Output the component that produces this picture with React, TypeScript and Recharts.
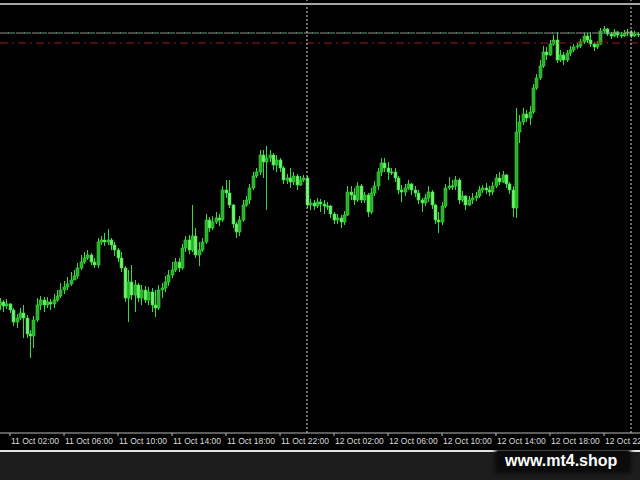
import React from 'react';
import { ComposedChart, Bar, XAxis, YAxis, ReferenceLine } from 'recharts';

// M15 candles, 11 Oct 01:15 -> 13 Oct 00:30. No price scale is shown in the
// picture, so each value is a vertical level read off the chart, measured
// downward from the top of the plot (the y axis is reversed).
const firstBarHour = 1.25; // hours after 11 Oct 00:00
const barHours = 0.25;

const opens = [
  305, 302, 306, 304, 310, 322, 318, 313, 318, 334,
  336, 320, 305, 300, 305, 302, 304, 300, 296, 290,
  287, 284, 280, 276, 268, 262, 258, 255, 262, 265,
  242, 240, 242, 240, 245, 250, 258, 268, 298, 282,
  295, 285, 298, 290, 300, 292, 305, 308, 290, 288,
  282, 275, 270, 262, 268, 248, 240, 250, 236, 255,
  250, 242, 220, 228, 222, 218, 220, 190, 193, 205,
  224, 232, 220, 205, 200, 188, 176, 172, 155, 162,
  158, 155, 165, 160, 168, 180, 178, 182, 176, 185,
  180, 178, 205, 203, 206, 202, 204, 206, 206, 214,
  220, 218, 222, 215, 192, 195, 200, 186, 200, 195,
  212, 193, 186, 172, 163, 168, 172, 172, 178, 190,
  192, 188, 184, 190, 193, 200, 203, 198, 192, 205,
  220, 222, 206, 188, 186, 186, 180, 200, 196, 205,
  200, 198, 196, 190, 188, 190, 192, 186, 178, 182,
  175, 184, 190, 208, 132, 122, 114, 118, 112, 88,
  78, 66, 52, 55, 44, 40, 60, 55, 60, 53,
  50, 47, 46, 42, 36, 40, 44, 47, 44, 31,
  29, 34, 36, 32, 35, 36, 33, 32, 36, 34,
];

const highs = [
  298, 300, 299, 303, 308, 314, 308, 305, 315, 330,
  316, 298, 296, 297, 297, 299, 294, 290, 283, 281,
  277, 272, 270, 263, 255, 252, 250, 253, 258, 238,
  236, 233, 229, 238, 242, 248, 252, 266, 270, 265,
  280, 283, 285, 286, 287, 288, 290, 285, 283, 276,
  270, 262, 258, 258, 244, 236, 235, 205, 228, 242,
  238, 214, 217, 216, 212, 214, 186, 180, 180, 204,
  222, 216, 200, 196, 184, 172, 168, 150, 150, 146,
  150, 153, 155, 158, 166, 174, 168, 172, 174, 176,
  175, 176, 199, 200, 198, 199, 200, 202, 205, 212,
  214, 215, 211, 186, 186, 188, 182, 184, 192, 193,
  188, 181, 168, 158, 158, 162, 168, 168, 176, 185,
  184, 180, 183, 186, 190, 198, 194, 186, 190, 204,
  212, 202, 184, 177, 180, 176, 178, 191, 195, 196,
  193, 192, 186, 185, 183, 186, 182, 174, 172, 171,
  174, 182, 186, 108, 115, 108, 110, 106, 84, 74,
  60, 46, 47, 40, 35, 32, 50, 52, 50, 46,
  44, 43, 39, 33, 33, 32, 42, 41, 28, 26,
  28, 32, 29, 31, 32, 30, 29, 30, 31, 32,
];

const lows = [
  310, 312, 309, 313, 326, 328, 320, 338, 338, 358,
  348, 322, 310, 312, 308, 310, 308, 302, 298, 294,
  290, 286, 280, 279, 270, 264, 260, 265, 268, 268,
  245, 246, 245, 250, 256, 262, 272, 302, 322, 300,
  312, 302, 305, 303, 305, 312, 317, 310, 298, 292,
  286, 278, 272, 272, 270, 252, 254, 252, 258, 266,
  252, 244, 232, 230, 224, 226, 222, 198, 208, 228,
  238, 236, 222, 207, 204, 190, 178, 175, 178, 210,
  162, 170, 172, 172, 184, 184, 188, 185, 190, 186,
  182, 208, 210, 210, 208, 212, 214, 210, 218, 224,
  224, 228, 225, 216, 200, 205, 202, 203, 203, 217,
  214, 196, 190, 176, 172, 180, 175, 182, 194, 202,
  196, 190, 195, 197, 204, 212, 206, 202, 209, 224,
  233, 225, 208, 190, 190, 190, 204, 202, 210, 206,
  204, 201, 198, 193, 194, 196, 195, 188, 185, 183,
  188, 194, 217, 218, 143, 125, 122, 125, 114, 90,
  80, 68, 60, 56, 46, 63, 62, 65, 62, 56,
  52, 49, 48, 44, 43, 47, 51, 49, 45, 33,
  36, 39, 37, 38, 38, 37, 36, 38, 37, 37,
];

const closes = [
  302, 306, 304, 310, 322, 318, 313, 318, 334, 336,
  320, 305, 300, 305, 302, 304, 300, 296, 290, 287,
  284, 280, 276, 268, 262, 258, 255, 262, 265, 242,
  240, 242, 240, 245, 250, 258, 268, 298, 282, 295,
  285, 298, 290, 300, 292, 305, 308, 290, 288, 282,
  275, 270, 262, 268, 248, 240, 250, 236, 255, 250,
  242, 220, 228, 222, 218, 220, 190, 193, 205, 224,
  232, 220, 205, 200, 188, 176, 172, 155, 162, 158,
  155, 165, 160, 168, 180, 178, 182, 176, 185, 180,
  178, 205, 203, 206, 202, 204, 206, 206, 214, 220,
  218, 222, 215, 192, 195, 200, 186, 200, 195, 212,
  193, 186, 172, 163, 168, 172, 172, 178, 190, 192,
  188, 184, 190, 193, 200, 203, 198, 192, 205, 220,
  222, 206, 188, 186, 186, 180, 200, 196, 205, 200,
  198, 196, 190, 188, 190, 192, 186, 178, 182, 175,
  184, 190, 208, 132, 122, 114, 118, 112, 88, 78,
  66, 52, 55, 44, 40, 60, 55, 60, 53, 50,
  47, 46, 42, 36, 40, 44, 47, 44, 31, 29,
  34, 36, 32, 35, 36, 33, 32, 36, 34, 35,
];

const tickHours = [2, 6, 10, 14, 18, 22, 26, 30, 34, 38, 42, 46];
const tickLabels = [
  '11 Oct 02:00', '11 Oct 06:00', '11 Oct 10:00', '11 Oct 14:00',
  '11 Oct 18:00', '11 Oct 22:00', '12 Oct 02:00', '12 Oct 06:00',
  '12 Oct 10:00', '12 Oct 14:00', '12 Oct 18:00', '12 Oct 22:00',
];

const askLevel = 33;
const stopLevel = 43;
const daySeparators = [24, 48];

const data = closes.map((c, i) => ({
  t: firstBarHour + i * barHours,
  open: opens[i],
  high: highs[i],
  low: lows[i],
  close: c,
  range: [highs[i], lows[i]],
}));

const W = 640;
const H = 480;
const PX_PER_HOUR = 13.5;
const xMin = 2 - 10 / PX_PER_HOUR;
const xMax = 2 + 630 / PX_PER_HOUR;

const WICK = '#3ad83a';
const UP_FILL = '#2aae2a';
const DOWN_FILL = '#72f272';

function Candle(props: any) {
  const { x, y, width, height, payload } = props;
  if (x == null || y == null || !payload) return null;
  const top = Math.min(y, y + height);
  const bot = Math.max(y, y + height);
  const span = payload.low - payload.high;
  const px = (v: number) => (span ? top + ((v - payload.high) / span) * (bot - top) : top);
  const o = px(payload.open);
  const c = px(payload.close);
  const cx = Math.round(x + width / 2) + 0.5;
  const bull = payload.close < payload.open;
  const bt = Math.min(o, c);
  const bh = Math.max(Math.abs(o - c), 1);
  return (
    <g>
      <line x1={cx} x2={cx} y1={top} y2={bot} stroke={WICK} strokeWidth={1} />
      <rect
        x={cx - 1.5}
        y={bt}
        width={3}
        height={bh}
        fill={bull ? UP_FILL : DOWN_FILL}
        stroke={WICK}
        strokeWidth={0.6}
      />
    </g>
  );
}

function TimeTick(props: any) {
  const { x, payload } = props;
  const idx = tickHours.indexOf(payload.value);
  if (idx < 0) return null;
  return (
    <text
      x={x + 1}
      y={444}
      fill="#dcdcdc"
      fontSize={8.5}
      fontFamily="'Liberation Sans', Arial, sans-serif"
      textAnchor="start"
    >
      {tickLabels[idx]}
    </text>
  );
}

export default function App() {
  return (
    <div style={{ position: 'absolute', left: 0, top: 0, width: W, height: H, background: '#000', overflow: 'hidden' }}>
      <ComposedChart
        width={W}
        height={H}
        data={data}
        margin={{ top: 0, right: 0, bottom: 0, left: 0 }}
      >
        <XAxis
          type="number"
          dataKey="t"
          domain={[xMin, xMax]}
          allowDataOverflow
          ticks={tickHours}
          interval={0}
          height={47}
          axisLine={{ stroke: '#b8b8b8' }}
          tickLine={{ stroke: '#b8b8b8' }}
          tickSize={3}
          tick={<TimeTick />}
        />
        <YAxis hide reversed domain={[0, 433]} allowDataOverflow />
        <ReferenceLine y={askLevel} stroke="#8e8e8e" strokeDasharray="9 7" ifOverflow="visible" />
        <ReferenceLine y={askLevel} stroke="#5f9f72" strokeDasharray="7 9" strokeDashoffset={8} ifOverflow="visible" />
        <ReferenceLine y={stopLevel} stroke="#a01818" strokeDasharray="8 4 2 4" ifOverflow="visible" />
        {daySeparators.map((d) => (
          <ReferenceLine key={d} x={d} stroke="#d8d8d8" strokeDasharray="2 2" ifOverflow="visible" />
        ))}
        <Bar dataKey="range" barSize={3} shape={<Candle />} isAnimationActive={false} />
      </ComposedChart>
      <div style={{ position: 'absolute', left: 0, top: 3, width: W, height: 2, background: '#a6a6a6' }} />
      <div style={{ position: 'absolute', left: 0, top: 450, width: W, height: 2, background: '#e4e4e4' }} />
      <div style={{ position: 'absolute', left: 0, top: 452, width: W, height: 28, background: '#1d1d1d' }} />
      <div
        style={{
          position: 'absolute',
          left: 497,
          top: 451,
          width: 132,
          height: 20,
          background: '#0b0b0b',
          boxShadow: '0 0 4px 2px #0b0b0b',
          color: '#ffffff',
          fontFamily: "'Liberation Sans', Arial, sans-serif",
          fontWeight: 'bold',
          fontSize: 16,
          lineHeight: '20px',
          paddingLeft: 8,
          boxSizing: 'border-box',
          whiteSpace: 'nowrap',
        }}
      >
        www.mt4.shop
      </div>
    </div>
  );
}
